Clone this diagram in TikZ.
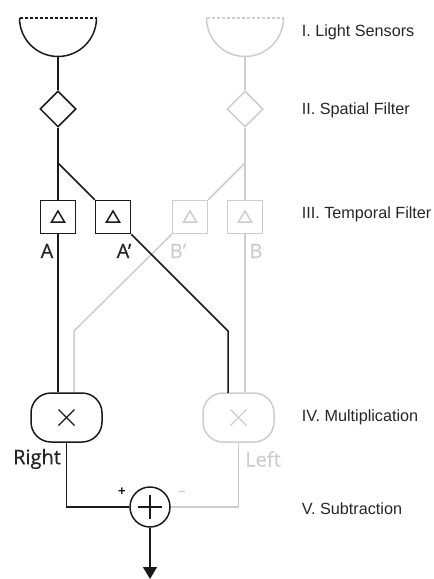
\documentclass[tikz,border=0pt]{standalone}
\usepackage{fontspec}
\setmainfont{Liberation Sans}
\newfontfamily\labfont[FakeBold=0.6]{Open Sans}
\usetikzlibrary{shapes.geometric,arrows.meta}
\definecolor{ink}{HTML}{1A1A1A}
\definecolor{faint}{HTML}{CDCDCD}
\definecolor{txt}{HTML}{262626}
\begin{document}
\begin{tikzpicture}[x=1bp,y=-1bp,line width=1.5bp,
  stagetext/.style={anchor=west,text=txt,inner sep=0pt,font=\fontsize{16.2bp}{19bp}\selectfont},
  chanlabel/.style={inner sep=0pt,font=\labfont\fontsize{20bp}{23bp}\selectfont},
  spatialbox/.style={diamond,draw,minimum width=36bp,minimum height=36bp,inner sep=0pt,aspect=1},
  tempbox/.style={rectangle,draw,minimum width=35bp,minimum height=33bp,inner sep=0pt},
  multbox/.style={rectangle,draw,rounded corners=20bp,minimum width=71bp,minimum height=49bp,inner sep=0pt},
  sumnode/.style={circle,draw,minimum size=40bp,inner sep=0pt},
  sensordash/.style={line width=1.3bp,dash pattern=on 3bp off 2bp}
]
\useasboundingbox (0,0) rectangle (434,579);

% ---------- gray (left eye) channel ----------
\begin{scope}[draw=faint,color=faint]
  \draw (206.5,18) arc[start angle=180,end angle=0,radius=38.5];
  \draw[sensordash] (206.5,18) -- (283.5,18);
  \coordinate (sR) at (245,56.5);
  \node[spatialbox] (dR) at (245,109) {};
  \coordinate (brR) at (245,163);
  \node[tempbox] (bBp) at (190,217) {};
  \node[tempbox] (bB) at (245,217) {};
  \node[multbox] (mR) at (238.5,417.5) {};
  \coordinate (cB) at (74,331);
  \draw (sR) -- (dR.north);
  \draw (dR.south) -- (brR);
  \draw (brR) -- (bB.north);
  \draw (brR) -- (bBp.north east);
  \draw (bBp.south west) -- (cB) -- (cB |- 0,393);
  \draw (bB.south) -- (bB.south |- mR.north);
  \foreach \b in {bBp,bB}
    \draw ([shift={(-6.5,5)}]\b.center) -- ([shift={(0,-6)}]\b.center) -- ([shift={(6.5,5)}]\b.center) -- cycle;
  \draw[line width=1.4bp] ([shift={(-8,-8)}]mR.center) -- ([shift={(8,8)}]mR.center);
  \draw[line width=1.4bp] ([shift={(-8,8)}]mR.center) -- ([shift={(8,-8)}]mR.center);
  \node[chanlabel,text=faint] (lBp) at (178,251) {B’};
  \node[chanlabel,text=faint] (lB) at (256,251) {B};
  \node[chanlabel,text=faint] (lLeft) at (263,459) {Left};
  \node[inner sep=0pt,text=faint,font=\bfseries\fontsize{13bp}{15bp}\selectfont] (minus) at (182,493) {–};
\end{scope}

% ---------- black (right eye) channel ----------
\begin{scope}[draw=ink,color=ink]
  \draw (19.5,18) arc[start angle=180,end angle=0,radius=38.5];
  \draw[sensordash] (19.5,18) -- (96.5,18);
  \coordinate (sL) at (58,56.5);
  \node[spatialbox] (dL) at (58,109) {};
  \coordinate (brL) at (58,163);
  \node[tempbox] (bA) at (58,217) {};
  \node[tempbox] (bAp) at (113,217) {};
  \node[multbox] (mL) at (66.5,417.5) {};
  \coordinate (cA) at (228,331);
  \node[sumnode] (sum) at (150,507) {};
  \coordinate (out) at (150,579);
  \draw (sL) -- (dL.north);
  \draw (dL.south) -- (brL);
  \draw (brL) -- (bA.north);
  \draw (brL) -- (bAp.north west);
  \draw (bA.south) -- (bA.south |- mL.north);
  \draw (bAp.south east) -- (cA) -- (cA |- 0,393);
  \foreach \b in {bA,bAp}
    \draw ([shift={(-6.5,5)}]\b.center) -- ([shift={(0,-6)}]\b.center) -- ([shift={(6.5,5)}]\b.center) -- cycle;
  \draw[line width=1.4bp] ([shift={(-8,-8)}]mL.center) -- ([shift={(8,8)}]mL.center);
  \draw[line width=1.4bp] ([shift={(-8,8)}]mL.center) -- ([shift={(8,-8)}]mL.center);
  \draw[line width=1.4bp] ([shift={(-12,0)}]sum.center) -- ([shift={(12,0)}]sum.center);
  \draw[line width=1.4bp] ([shift={(0,-12)}]sum.center) -- ([shift={(0,12)}]sum.center);
  \draw (mL.south) |- (sum.west);
  \draw[-{Triangle[width=14bp,length=12bp]}] (sum.south) -- (out);
  \node[chanlabel,text=txt] (lA) at (47,251) {A};
  \node[chanlabel,text=txt] (lAp) at (124,251) {A’};
  \node[chanlabel,text=txt] (lRight) at (37,459) {Right};
  \node[inner sep=0pt,text=ink,font=\bfseries\fontsize{13bp}{15bp}\selectfont] (plus) at (122,492) {+};
\end{scope}
\draw[faint] (mR.south) |- (sum.east);

% ---------- stage labels ----------
\node[stagetext] (t1) at (301,32) {I. Light Sensors};
\node[stagetext] (t2) at (301,110) {II. Spatial Filter};
\node[stagetext] (t3) at (301,214) {III. Temporal Filter};
\node[stagetext] (t4) at (301,417) {IV. Multiplication};
\node[stagetext] (t5) at (301,509) {V. Subtraction};
\end{tikzpicture}
\end{document}
